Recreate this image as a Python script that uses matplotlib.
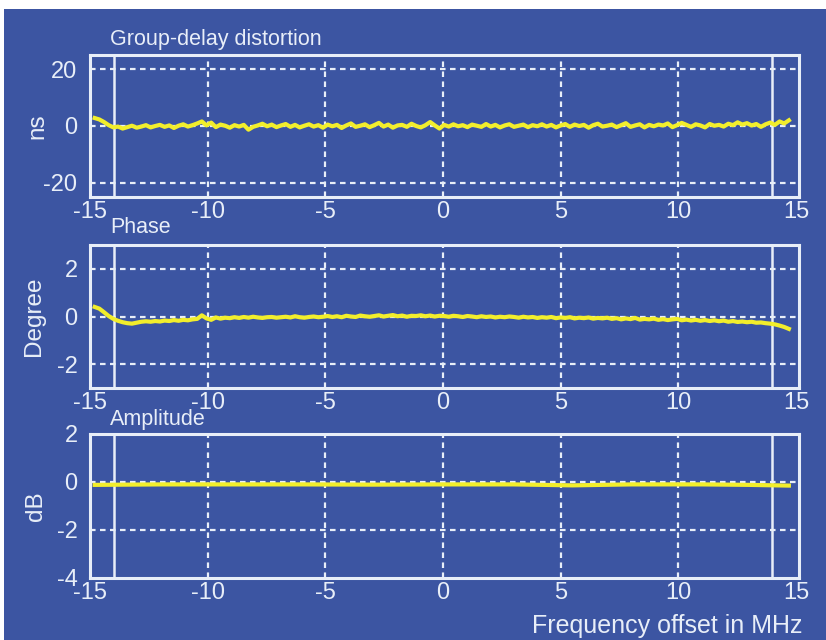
import numpy as np
import matplotlib.pyplot as plt
from matplotlib.patches import Rectangle

# sampled frequency offsets (MHz)
freq = np.linspace(-14.8, 14.7, 150)

# group delay distortion (ns)
group_delay = [
    2.8, 2.3, 1.4, 0.3, -0.5, -0.2, -0.9, -0.4, 0.1, -0.6,
    -0.2, 0.3, -0.5, 0.0, 0.4, -0.3, 0.2, -0.7, 0.1, 0.6,
    -0.2, 0.3, 0.9, 1.6, 0.2, 1.2, -0.4, 0.5, 0.1, -0.6,
    0.3, -0.2, 0.4, -1.3, -0.3, 0.2, 0.8, -0.1, 0.5, -0.4,
    0.2, 0.7, -0.3, 0.4, -0.5, 0.1, 0.6, -0.2, 0.3, -0.6,
    0.5, -0.1, 0.4, -0.7, 0.2, 0.9, -0.3, 0.1, 0.6, -0.4,
    0.3, 1.1, -0.2, 0.5, -0.6, 0.2, 0.4, -0.3, 0.8, 0.0,
    -0.5, 0.3, 1.4, 0.2, -0.9, 0.4, -0.2, 0.6, -0.1, 0.3,
    -0.4, 0.5, 0.1, -0.3, 0.7, -0.2, 0.4, -0.5, 0.2, 0.6,
    -0.3, 0.1, 0.5, -0.4, 0.3, -0.1, 0.6, -0.2, 0.4, -0.5,
    0.2, 0.7, -0.3, 0.5, 0.0, 0.4, -0.6, 0.3, 0.8, -0.2,
    0.1, 0.5, -0.4, 0.3, 1.0, -0.3, 0.2, 0.6, -0.5, 0.4,
    -0.1, 0.5, 0.2, 0.9, -0.4, 0.3, 1.1, 0.4, -0.3, 0.6,
    0.2, -0.5, 0.7, 0.1, 0.4, -0.2, 0.8, 0.3, 1.3, 0.5,
    1.0, 0.2, 0.7, -0.3, 0.6, 1.2, 0.4, 1.6, 0.9, 2.0,
]

# phase (degree)
phase = [
    0.40, 0.33, 0.18, 0.02, -0.10, -0.18, -0.24, -0.28, -0.30, -0.26,
    -0.22, -0.20, -0.22, -0.19, -0.21, -0.17, -0.19, -0.15, -0.18, -0.14,
    -0.16, -0.12, -0.10, 0.05, -0.08, -0.14, -0.04, -0.09, -0.05, -0.07,
    -0.03, -0.06, -0.02, -0.05, -0.01, -0.04, -0.06, -0.03, -0.02, -0.05,
    -0.03, -0.01, -0.04, 0.01, -0.03, -0.05, -0.02, 0.00, -0.03, -0.01,
    0.02, -0.02, 0.01, -0.03, 0.03, 0.00, -0.02, 0.04, 0.01, -0.01,
    0.02, 0.05, 0.00, 0.03, 0.06, 0.01, 0.04, -0.01, 0.03, 0.02,
    0.05, 0.01, 0.04, 0.00, 0.03, 0.02, -0.01, 0.03, 0.01, -0.02,
    0.02, 0.00, -0.03, 0.01, -0.02, 0.00, -0.04, -0.01, -0.03, 0.00,
    -0.02, -0.05, -0.01, -0.04, -0.02, -0.06, -0.03, -0.05, -0.02, -0.07,
    -0.04, -0.06, -0.03, -0.08, -0.05, -0.07, -0.04, -0.09, -0.06, -0.08,
    -0.05, -0.10, -0.07, -0.12, -0.08, -0.11, -0.06, -0.13, -0.10, -0.12,
    -0.09, -0.14, -0.11, -0.15, -0.12, -0.10, -0.16, -0.13, -0.17, -0.14,
    -0.18, -0.15, -0.19, -0.16, -0.20, -0.17, -0.22, -0.19, -0.23, -0.21,
    -0.24, -0.22, -0.26, -0.25, -0.28, -0.30, -0.33, -0.38, -0.44, -0.52,
]

# amplitude (dB), practically flat
amp_freq = [-14.8, -12, -9, -6, -3, 0, 3, 5.5, 8, 11, 13, 14.7]
amplitude = [-0.12, -0.1, -0.1, -0.1, -0.11, -0.1, -0.1, -0.14, -0.1, -0.1, -0.12, -0.15]

titles = ["Group-delay distortion", "Phase", "Amplitude"]
ylabels = ["ns", "Degree", "dB"]
ylims = [(-25, 25), (-3, 3), (-4, 2)]
yticks = [[-20, 0, 20], [-2, 0, 2], [-4, -2, 0, 2]]
xticks = [-15, -10, -5, 0, 5, 10, 15]
marker_lines = [-14, 14]

BG = "#3c55a2"
FG = "#e8eef8"
TRACE = "#f2ee2c"

W, H = 826, 640
fig = plt.figure(figsize=(8.26, 6.4), dpi=100, facecolor="white")
fig.patches.append(Rectangle((4 / W, 0), 1 - 4 / W, 1 - 9 / H, transform=fig.transFigure,
                             facecolor=BG, edgecolor="none", zorder=-10))

# axes boxes in pixels: (top, bottom)
boxes = [(55, 197), (245, 388), (434, 578)]
left_px, right_px = 90, 799
title_base = [45, 233, 425]
ylabel_x = [37, 34, 36]

series = [(freq, group_delay), (freq, phase), (amp_freq, amplitude)]

for i in range(3):
    top, bot = boxes[i]
    ax = fig.add_axes([left_px / W, 1 - bot / H, (right_px - left_px) / W, (bot - top) / H])
    ax.set_zorder(1)
    ax.set_facecolor(BG)
    ax.set_xlim(-14.92, 15.13)
    ax.set_ylim(*ylims[i])
    ax.set_xticks(xticks)
    ax.set_yticks(yticks[i])
    ax.set_xticklabels([str(t) for t in xticks])
    ax.set_yticklabels([str(t) for t in yticks[i]])
    ax.tick_params(length=0, colors=FG, labelsize=17)
    ax.tick_params(axis="x", pad=3)
    ax.tick_params(axis="y", pad=9)
    for s in ax.spines.values():
        s.set_color(FG)
        s.set_linewidth(2.2)

    for xv in [-10, -5, 0, 5, 10]:
        ax.axvline(xv, color=FG, lw=1.6, ls=(0, (2.5, 2.0)), zorder=1)
    for yv in yticks[i]:
        if ylims[i][0] < yv < ylims[i][1]:
            ax.axhline(yv, color=FG, lw=1.6, ls=(0, (2.5, 2.0)), zorder=1)
    for xv in marker_lines:
        ax.axvline(xv, color=FG, lw=1.8, zorder=2)

    x, y = series[i]
    ax.plot(x, y, color=TRACE, lw=3.0, zorder=3)

    fig.text(110 / W, 1 - title_base[i] / H, titles[i], color=FG, fontsize=15.5,
             family="Liberation Sans", ha="left", va="baseline", zorder=5)
    fig.text(ylabel_x[i] / W, 1 - (top + bot) / 2 / H, ylabels[i], color=FG, fontsize=17.5,
             family="Liberation Sans", rotation=90, ha="center", va="center", zorder=5)
    for lab in ax.get_xticklabels() + ax.get_yticklabels():
        lab.set_family("Liberation Sans")

fig.text(803 / W, 1 - 633 / H, "Frequency offset in MHz", color=FG, fontsize=18,
         family="Liberation Sans", ha="right", va="baseline", zorder=5)

fig.savefig("out.png", dpi=100, facecolor=fig.get_facecolor())
